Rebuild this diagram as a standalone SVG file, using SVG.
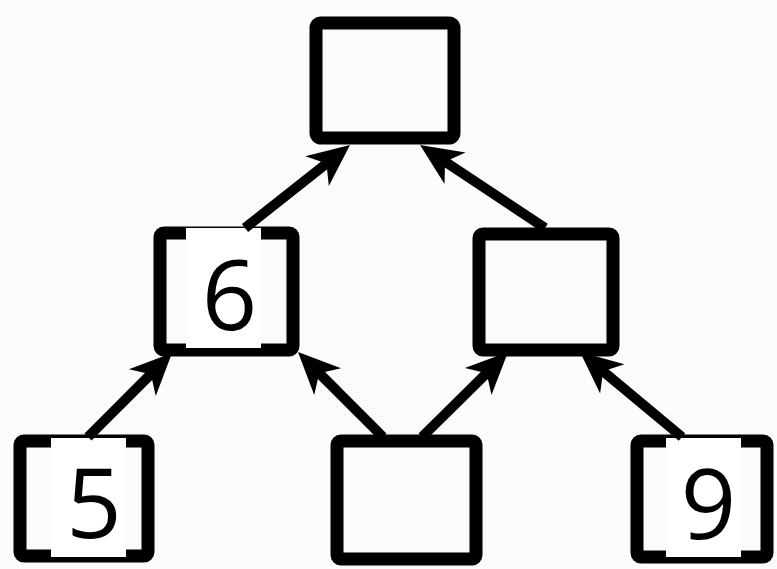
<svg xmlns="http://www.w3.org/2000/svg" width="777" height="569" viewBox="0 0 777 569">
<style>
.box{fill:none;stroke:#000;stroke-width:13;stroke-linejoin:round}
.lbl{fill:#fff}
.num{font-family:"Open Sans","Noto Sans",sans-serif;font-size:97px;fill:#000;text-anchor:middle}
.edge{stroke:#000;stroke-width:10;fill:none;marker-end:url(#ah)}
</style>
<defs>
<marker id="ah" viewBox="-24 -24 46 48" refX="0" refY="0" markerWidth="46" markerHeight="48" markerUnits="userSpaceOnUse" orient="auto">
<path d="M20,0 L-22,-19 L-10,0 L-22,19 Z" fill="#000"/>
</marker>
</defs>
<rect width="777" height="569" fill="#fefbfd"/>
<g id="n-top"><rect class="box" x="316" y="23" width="138" height="115" rx="5"/></g>
<g id="n-6"><rect class="box" x="160" y="233" width="133" height="117" rx="4"/><rect class="lbl" x="186" y="228" width="75" height="120"/><text class="num" x="229.5" y="330">6</text></g>
<g id="n-midright"><rect class="box" x="479" y="234" width="134" height="116" rx="4"/></g>
<g id="n-5"><rect class="box" x="20" y="441" width="128" height="115" rx="4"/><rect class="lbl" x="51" y="438" width="75" height="119"/><text class="num" x="94" y="538">5</text></g>
<g id="n-botmid"><rect class="box" x="337" y="441" width="139" height="118" rx="4"/></g>
<g id="n-9"><rect class="box" x="637" y="441" width="130" height="116" rx="4"/><rect class="lbl" x="666" y="438" width="75" height="119"/><text class="num" x="708.5" y="539">9</text></g>
<g id="connectors">
<line class="edge" x1="245" y1="228" x2="334.3" y2="157.4"/>
<line class="edge" x1="545" y1="228" x2="436.7" y2="156.1"/>
<line class="edge" x1="88" y1="437" x2="157.9" y2="367.1"/>
<line class="edge" x1="383" y1="437" x2="312.1" y2="366.1"/>
<line class="edge" x1="422" y1="437" x2="493.8" y2="366.1"/>
<line class="edge" x1="682" y1="437" x2="595.4" y2="364.8"/>
</g>
</svg>
